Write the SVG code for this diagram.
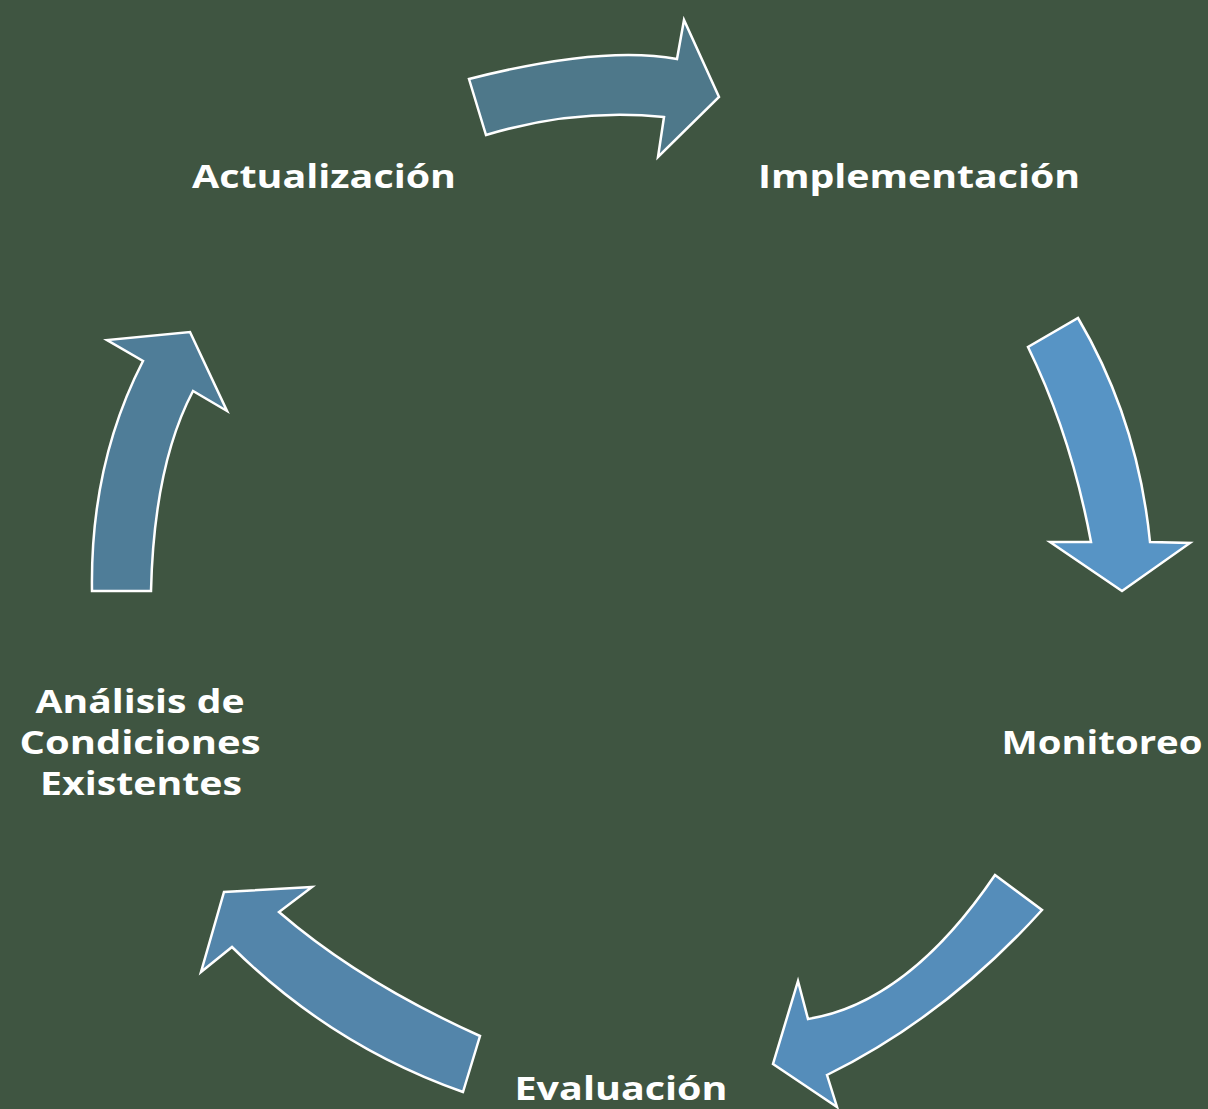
<svg xmlns="http://www.w3.org/2000/svg" width="1208" height="1109" viewBox="0 0 1208 1109">
<style>
.arr{stroke:#ffffff;stroke-width:2.5;stroke-linejoin:miter}
.lbl{font-family:"Open Sans","Liberation Sans",sans-serif;font-weight:700;font-size:33px;fill:#ffffff;text-anchor:middle}
</style>
<rect width="1208" height="1109" fill="#3F5541"/>
<g id="connectors">
<path id="arrow-act-impl" class="arr" fill="#4E788A" d="M469,79 Q602,45 677,59 L684,20 L719,97 L658,157 L664,117 Q575,108 486,135 Z"/>
<path id="arrow-impl-mon" class="arr" fill="#5794C5" d="M1078,318 Q1138,420 1150,542 L1190,543 L1122,591 L1050,542 L1091,542 Q1071,435 1028,347 Z"/>
<path id="arrow-mon-eval" class="arr" fill="#558DBA" d="M1042,910 Q945,1017 827,1075 L837,1107 L773,1064 L798,981 L808,1019 Q908,1003 995,875 Z"/>
<path id="arrow-eval-ana" class="arr" fill="#5385AA" d="M463,1092 Q332,1046 232,947 L201,972 L224,892 L312,887 L279,912 Q360,982 480,1036 Z"/>
<path id="arrow-ana-act" class="arr" fill="#4F7D98" d="M92,591 Q90,464 143,361 L107,340 L190,332 L227,411 L193,391 Q154,465 151,591 Z"/>
</g>
<g id="node-actualizacion"><text class="lbl" x="324" y="188" textLength="264" lengthAdjust="spacingAndGlyphs">Actualización</text></g>
<g id="node-implementacion"><text class="lbl" x="919" y="188" textLength="322" lengthAdjust="spacingAndGlyphs">Implementación</text></g>
<g id="node-monitoreo"><text class="lbl" x="1102" y="754" textLength="201" lengthAdjust="spacingAndGlyphs">Monitoreo</text></g>
<g id="node-evaluacion"><text class="lbl" x="621" y="1100" textLength="213" lengthAdjust="spacingAndGlyphs">Evaluación</text></g>
<g id="node-analisis">
<text class="lbl" x="140" y="713" textLength="209" lengthAdjust="spacingAndGlyphs">Análisis de</text>
<text class="lbl" x="140" y="754" textLength="241" lengthAdjust="spacingAndGlyphs">Condiciones</text>
<text class="lbl" x="141" y="795" textLength="202" lengthAdjust="spacingAndGlyphs">Existentes</text>
</g>
</svg>
